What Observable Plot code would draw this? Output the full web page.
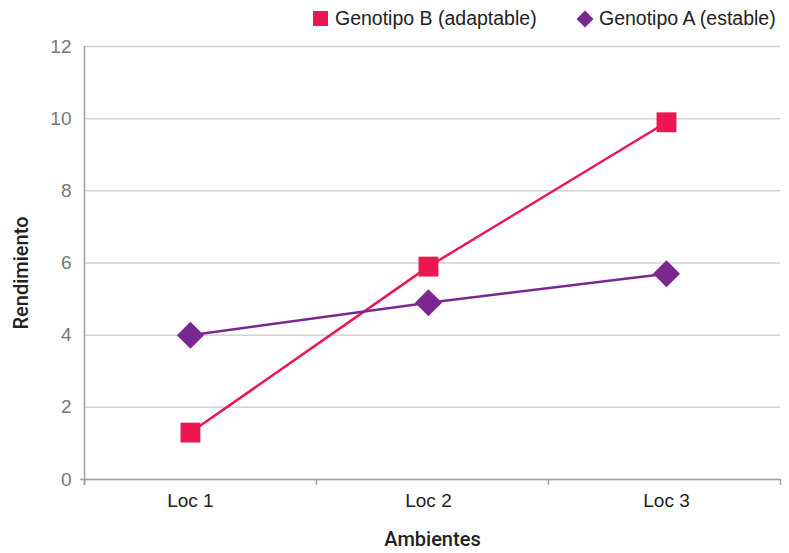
<!DOCTYPE html>
<html>
<head>
<meta charset="utf-8">
<script src="https://cdn.jsdelivr.net/npm/d3@7"></script>
<script src="https://cdn.jsdelivr.net/npm/@observablehq/plot@0.6"></script>
<style>
  html, body { margin: 0; padding: 0; background: #fff; }
  body { width: 789px; height: 553px; overflow: hidden; font-family: "Liberation Sans", Arial, sans-serif; }
  #legend { height: 36px; position: relative; font-size: 19.5px; color: #222; }
  .item { position: absolute; top: 7px; display: flex; align-items: center; white-space: nowrap; }
  .sw { display: inline-block; margin-right: 7px; }
</style>
</head>
<body>
<div id="legend"></div>
<div id="chart"></div>
<script>
const categories = ["Loc 1", "Loc 2", "Loc 3"];
const genotipoB = [1.3, 5.9, 9.9];
const genotipoA = [4.0, 4.9, 5.7];
const seriesNames = ["Genotipo B (adaptable)", "Genotipo A (estable)"];
const yTicks = [0, 2, 4, 6, 8, 10, 12];

const colors = {"Genotipo B (adaptable)": "#EC1751", "Genotipo A (estable)": "#7A288F"};
const symbols = {"Genotipo B (adaptable)": "square", "Genotipo A (estable)": "diamond"};

const data = [];
categories.forEach((c, i) => {
  data.push({cat: c, idx: i + 1, value: genotipoB[i], serie: seriesNames[0]});
  data.push({cat: c, idx: i + 1, value: genotipoA[i], serie: seriesNames[1]});
});

// Legend
const legend = document.getElementById("legend");
const legendPos = [313, 576];
seriesNames.forEach((s, i) => {
  const d = document.createElement("div");
  d.className = "item";
  d.style.left = legendPos[i] + "px";
  const sw = document.createElement("span");
  sw.className = "sw";
  if (symbols[s] === "square") {
    sw.style.cssText = `width:15px;height:15px;background:${colors[s]};`;
  } else {
    sw.style.cssText = `width:12px;height:12px;background:${colors[s]};transform:rotate(45deg);margin-left:3px;margin-right:8px;`;
  }
  d.appendChild(sw);
  d.appendChild(document.createTextNode(s));
  legend.appendChild(d);
});

const xDomain = [0.555, 3.479];
const boundaries = d3.range(categories.length + 1).map(i => xDomain[0] + i * (xDomain[1] - xDomain[0]) / categories.length);

const chart = Plot.plot({
  width: 789,
  height: 517,
  marginLeft: 84,
  marginRight: 9,
  marginTop: 10,
  marginBottom: 74,
  style: {fontFamily: "'Liberation Sans', Arial, sans-serif", background: "#fff", fontSize: "18px"},
  x: {type: "linear", domain: xDomain},
  y: {type: "linear", domain: [0, 12]},
  marks: [
    Plot.ruleY(yTicks, {stroke: "#d2d2d2", strokeWidth: 1.5}),
    Plot.ruleX([xDomain[0]], {stroke: "#a0a0a0", strokeWidth: 1.5, y1: 12, y2: 0, insetBottom: -6}),
    Plot.ruleY([0], {stroke: "#a0a0a0", strokeWidth: 1.5, insetLeft: -4}),
    Plot.ruleX(boundaries, {x: d => d, y1: 0, y2: 0, insetBottom: -6, stroke: "#a0a0a0", strokeWidth: 1.5}),
    Plot.axisY({ticks: yTicks, tickSize: 0, tickPadding: 13, fontSize: 19, fill: "#777", fontWeight: 300, label: null}),
    Plot.axisX({ticks: categories.map((c, i) => i + 1), tickFormat: i => categories[i - 1], tickSize: 0, tickPadding: 14, fontSize: 19, fill: "#222", label: null}),
    Plot.text(["Rendimiento"], {frameAnchor: "left", textAnchor: "middle", dx: -63, dy: 10, rotate: -90, fontSize: 20, fontWeight: 500, fontFamily: "Roboto", fill: "#222"}),
    Plot.text(["Ambientes"], {frameAnchor: "bottom", dy: 66, fontSize: 20, fontWeight: 500, fontFamily: "Roboto", fill: "#222"}),
    Plot.line(data, {x: "idx", y: "value", z: "serie", stroke: d => colors[d.serie], strokeWidth: 2.5}),
    Plot.dot(data.filter(d => d.serie === seriesNames[0]), {x: "idx", y: "value", symbol: "square", r: 11.2, fill: colors[seriesNames[0]], stroke: null}),
    Plot.dot(data.filter(d => d.serie === seriesNames[1]), {x: "idx", y: "value", symbol: "square", rotate: 45, r: 10.8, fill: colors[seriesNames[1]], stroke: null})
  ]
});
document.getElementById("chart").appendChild(chart);
</script>
</body>
</html>
